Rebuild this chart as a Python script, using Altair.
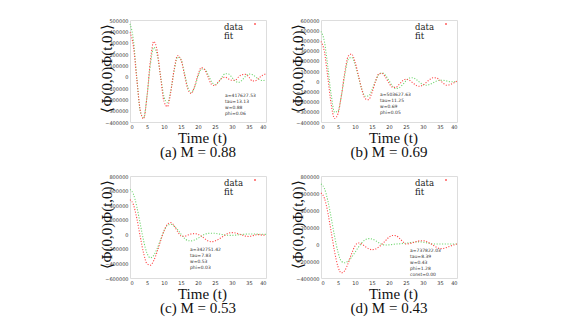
import altair as alt
import pandas as pd

T = list(range(41))
X_TICKS = [0, 5, 10, 15, 20, 25, 30, 35, 40]

# values in thousands, read at t = 0..40
A_DATA = [392, 268, -23, -293, -372, -174, 140, 311, 226, -5, -219, -264, -132, 68, 186, 150, 20, -110, -148, -86, 18,
          80, 61, -6, -68, -78, -45, -15, -5, -20, -32, -30, 0, 18, 20, -5, -38, -35, -10, 12, 25]
A_FIT = [466, 324, -8, -303, -363, -172, 109, 258, 191, 3, -177, -229, -124, 55, 173, 151, 34, -93, -140, -92, 1,
         68, 65, 15, -44, -70, -50, -7, 26, 23, -7, -40, -50, -30, 4, 23, 18, -3, -25, -35, -28]
B_DATA = [390, 289, 38, -227, -366, -319, -139, 86, 245, 267, 190, 58, -81, -172, -181, -111, -5, 72, 77, 37, -19,
          -59, -61, -32, 4, 20, 9, -16, -41, -50, -38, -11, 17, 34, 32, 9, -21, -39, -33, -18, 0]
B_FIT = [488, 389, 141, -134, -304, -292, -142, 63, 213, 234, 164, 43, -78, -148, -144, -85, -2, 64, 82, 56, 5,
         -46, -72, -64, -34, 4, 31, 34, 17, -10, -33, -40, -31, -15, 1, 10, 8, 2, -5, -6, 0]
C_DATA = [476, 407, 220, -28, -259, -404, -424, -359, -237, -89, 47, 138, 160, 116, 38, -21, -28, -10, 5, 9, 0,
          -25, -60, -92, -102, -92, -70, -40, -10, 15, 23, 18, 5, -10, -25, -30, -20, -8, -5, -12, -10]
C_FIT = [614, 551, 380, 145, -89, -260, -323, -289, -196, -73, 45, 122, 137, 112, 63, 2, -53, -86, -91, -78, -54,
         -26, 0, 13, 15, 13, 6, -3, -10, -14, -15, -12, -7, -2, 2, 4, 4, 3, 1, 0, -1]
D_DATA = [600, 539, 372, 142, -92, -268, -340, -312, -225, -114, -23, 12, 0, -30, -55, -67, -60, -35, 0, 40, 80,
          100, 98, 70, 30, 0, 5, 15, 28, 37, 39, 30, 10, -15, -40, -55, -52, -40, -25, -12, 0]
D_FIT = [706, 654, 511, 307, 90, -95, -204, -221, -199, -155, -98, -38, 14, 50, 63, 58, 40, 15, -5, -12, -10,
         -5, 0, 2, 5, 10, 15, 20, 24, 25, 22, 15, 6, 0, 0, 0, 0, 0, 0, 0, 0]

A_YTICKS = [-400000, -300000, -200000, -100000, 0, 100000, 200000, 300000, 400000, 500000]
B_YTICKS = [-400000, -300000, -200000, -100000, 0, 100000, 200000, 300000, 400000, 500000, 600000]
C_YTICKS = [-600000, -400000, -200000, 0, 200000, 400000, 600000, 800000]
D_YTICKS = [-400000, -200000, 0, 200000, 400000, 600000, 800000]

CAPTIONS = ["(a) M = 0.88", "(b) M = 0.69", "(c) M = 0.53", "(d) M = 0.43"]
PARAMS = [
    ["a=417627.53", "tau=13.13", "w=0.88", "phi=0.06"],
    ["a=503627.63", "tau=11.25", "w=0.69", "phi=0.05"],
    ["a=342751.42", "tau=7.83", "w=0.53", "phi=0.03"],
    ["a=737822.03", "tau=8.39", "w=0.43", "phi=1.28", "const=0.00"],
]

SERIF = "Liberation Serif"
LEG_SERIF = "DejaVu Serif"
SANS = "DejaVu Sans"
RED = "#ff4545"
GREEN = "#6fd66f"
W, H = 136, 102


def panel(red, green, yticks, caption, params, px, py):
    df_red = pd.DataFrame({"t": T, "v": [v * 1000 for v in red]})
    df_green = pd.DataFrame({"t": T, "v": [v * 1000 for v in green]})
    x = alt.X("t:Q", scale=alt.Scale(domain=[0, 40], nice=False),
              axis=alt.Axis(values=X_TICKS, title="Time (t)", titleFont=SERIF, titleFontSize=15,
                            titleFontWeight="normal", titleColor="#111", labelFont=SANS, labelFontSize=5,
                            labelColor="#333", labelPadding=2, ticks=False, domain=False, grid=False,
                            titleX=72, titleY=8, titleBaseline="top", titleAlign="center"))
    y = alt.Y("v:Q", scale=alt.Scale(domain=[yticks[0], yticks[-1]], nice=False, zero=False),
              axis=alt.Axis(values=yticks, format="d", title="⟨Φ(0,0)Φ(t,0)⟩", titleFont=SERIF,
                            titleFontSize=15, titleFontWeight="normal", titleColor="#111", labelFont=SANS,
                            labelFontSize=5, labelColor="#333", labelPadding=2, ticks=False, domain=False,
                            grid=False, titleX=-16, titleY=48, titleAngle=270, titleBaseline="bottom",
                            titleAlign="center"))
    g = alt.Chart(df_green).mark_line(color=GREEN, strokeWidth=1.1, strokeDash=[1.1, 1.6],
                                      interpolate="monotone").encode(x=x, y=y)
    r = alt.Chart(df_red).mark_line(color=RED, strokeWidth=1.1, strokeDash=[1.1, 1.6],
                                    interpolate="monotone").encode(x=x, y=y)
    one = pd.DataFrame({"k": [0]})
    t_data = alt.Chart(one).mark_text(font=LEG_SERIF, fontSize=8.5, align="left", baseline="middle",
                                      color="#222").encode(x=alt.value(94), y=alt.value(7), text=alt.value("data"))
    t_fit = alt.Chart(one).mark_text(font=LEG_SERIF, fontSize=8.5, align="left", baseline="middle",
                                     color="#222").encode(x=alt.value(94), y=alt.value(16), text=alt.value("fit"))
    dot = alt.Chart(one).mark_square(size=3, color=RED, opacity=1).encode(x=alt.value(125), y=alt.value(4))
    ptxt = alt.Chart(one).mark_text(font=SANS, fontSize=4.5, align="left", baseline="top", color="#333",
                                    lineBreak="\n", lineHeight=6).encode(
        x=alt.value(px), y=alt.value(py), text=alt.value("\n".join(params)))
    return alt.layer(g, r, t_data, t_fit, dot, ptxt).properties(
        width=W, height=H,
        title=alt.TitleParams(caption, orient="bottom", font=SERIF, fontSize=15, fontWeight="normal",
                              anchor="middle", offset=0, color="#111"))


pa = panel(A_DATA, A_FIT, A_YTICKS, CAPTIONS[0], PARAMS[0], 95, 72.5)
pb = panel(B_DATA, B_FIT, B_YTICKS, CAPTIONS[1], PARAMS[1], 59, 71.5)
pc = panel(C_DATA, C_FIT, C_YTICKS, CAPTIONS[2], PARAMS[2], 60, 71)
pd_ = panel(D_DATA, D_FIT, D_YTICKS, CAPTIONS[3], PARAMS[3], 89, 72)

row1 = alt.hconcat(pa, pb, spacing=20)
row2 = alt.hconcat(pc, pd_, spacing=20)
chart = alt.vconcat(row1, row2, spacing=12).properties(
    padding={"left": 90, "top": 9, "right": 5, "bottom": 5}
).configure_view(stroke=None).configure(background="white")

chart.save("out.html", embed_options={"renderer": "svg", "actions": False})
